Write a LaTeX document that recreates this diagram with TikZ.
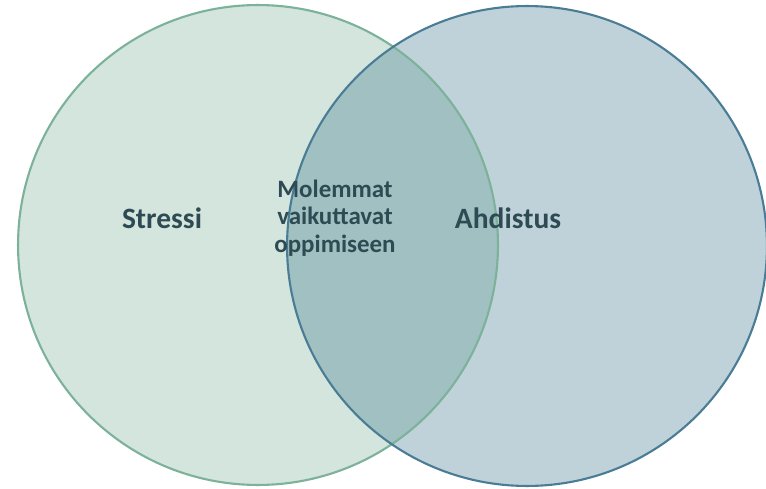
\documentclass[tikz,border=0pt]{standalone}
\usepackage{fontspec}
\setmainfont{Carlito}
\definecolor{stressfill}{RGB}{211,229,221}
\definecolor{stressline}{RGB}{125,178,154}
\definecolor{anxfill}{RGB}{55,114,139}
\definecolor{anxline}{RGB}{74,125,149}
\definecolor{labeltext}{RGB}{46,74,82}
\begin{document}
\begin{tikzpicture}[
    x=0.02cm, y=-0.02cm,
    set/.style={circle, minimum size=9.6cm, inner sep=0pt, outer sep=0pt},
    lbl/.style={text=labeltext, font=\bfseries\fontsize{16.8}{19}\selectfont}
]

\useasboundingbox (0,0) rectangle (766,489);

% ================= Sets =================

\node[set, fill=stressfill] (stress) at (258,245) {};
\node[set, fill=anxfill, fill opacity=0.32] (anx) at (527,246) {};

\node[set, draw=stressline, line width=1.2pt] (stressrim) at (258,245) {};
\node[set, draw=anxline, line width=1.2pt] (anxrim) at (527,246) {};

% ================= Labels =================

\node[lbl] (s) at (162,218) {Stressi};
\node[lbl] (a) at (508,218) {Ahdistus};

\node[lbl, align=center, font=\bfseries\fontsize{14.2}{15.5}\selectfont] (both) at (335,218)
{Molemmat\\vaikuttavat\\oppimiseen};

\end{tikzpicture}
\end{document}
